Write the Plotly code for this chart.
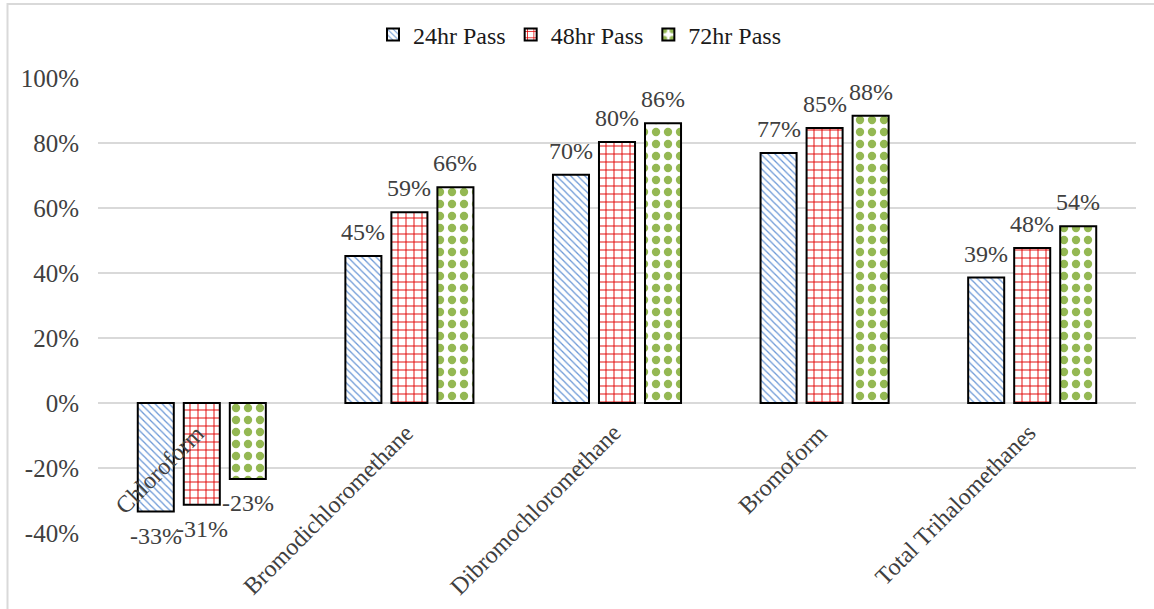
import plotly.graph_objects as go

categories = ["Chloroform", "Bromodichloromethane", "Dibromochloromethane", "Bromoform", "Total Trihalomethanes"]
pass_24hr = [-33.4, 45.2, 70.2, 76.9, 38.6]
pass_48hr = [-31.3, 58.7, 80.3, 84.6, 47.7]
pass_72hr = [-23.4, 66.4, 86.1, 88.4, 54.4]
series_names = ["24hr Pass", "48hr Pass", "72hr Pass"]
y_ticks = [-40, -20, 0, 20, 40, 60, 80, 100]
y_tick_labels = ["-40%", "-20%", "0%", "20%", "40%", "60%", "80%", "100%"]

FONT = "Liberation Serif"
TXT = "#404040"

L, R, T, B = 98, 18, 78, 76
W, H = 1154, 609
pw, ph = W - L - R, H - T - B
BARGAP, GROUPGAP = 0.335, 0.217
slot_px = (1 - BARGAP) * (pw / len(categories)) / 3

styles = [
    dict(shape="\\", fgcolor="#6a97d6", size=5, solidity=0.25),
    dict(shape="+", fgcolor="#e00000", size=8, solidity=0.22),
    dict(shape=".", fgcolor="#94b853", size=12, solidity=0.38),
]

fig = go.Figure()
all_series = [pass_24hr, pass_48hr, pass_72hr]
for k, (name, vals, st) in enumerate(zip(series_names, all_series, styles)):
    fig.add_trace(go.Bar(
        name=name, x=categories, y=vals,
        marker=dict(color="white", line=dict(color="black", width=2),
                    pattern=dict(shape=st["shape"], fgcolor=st["fgcolor"], bgcolor="white",
                                 size=st["size"], solidity=st["solidity"], fillmode="replace")),
        cliponaxis=False,
    ))
    # data labels
    for c, v in zip(categories, vals):
        pos = v >= 0
        fig.add_annotation(x=c, y=v, xref="x", yref="y", text=f"{round(v)}%", showarrow=False,
                           xanchor="center", yanchor="bottom" if pos else "top",
                           xshift=(k - 1) * slot_px, yshift=9 if pos else -9,
                           font=dict(family=FONT, size=24, color=TXT))

for c in categories:
    fig.add_annotation(x=c, y=0, xref="x", yref="y", text=c, showarrow=False,
                       textangle=-45, xanchor="right", yanchor="top",
                       xshift=11, yshift=-14,
                       font=dict(family=FONT, size=24, color=TXT))

fig.add_shape(type="rect", xref="paper", yref="paper",
              x0=(7.5 - L) / pw, x1=(W + 10 - L) / pw,
              y0=-(B + 10) / ph, y1=(H - B - 4) / ph,
              line=dict(color="#d9d9d9", width=2), fillcolor="rgba(0,0,0,0)", layer="above")

fig.update_layout(
    width=W, height=H,
    margin=dict(l=L, r=R, t=T, b=B),
    paper_bgcolor="white", plot_bgcolor="white",
    barmode="group", bargap=BARGAP, bargroupgap=GROUPGAP,
    font=dict(family=FONT, size=24, color=TXT),
    legend=dict(orientation="h", x=(580 - L) / pw, xanchor="center", y=(H - B - 35) / ph,
                yanchor="middle", font=dict(family=FONT, size=24, color="#1a1a1a"),
                itemwidth=30, traceorder="normal"),
    showlegend=True,
)
fig.update_xaxes(showticklabels=False, showgrid=False, showline=False, zeroline=False, ticks="")
fig.update_yaxes(range=[-40, 100], tickmode="array", tickvals=y_ticks, ticktext=y_tick_labels,
                 showgrid=True,
                 gridcolor="#d9d9d9", gridwidth=1.5, zeroline=True, zerolinecolor="#d9d9d9",
                 zerolinewidth=1.5, showline=False, ticks="", ticklabelstandoff=18,
                 tickfont=dict(family=FONT, size=25, color=TXT))

fig.write_html("out.html")
